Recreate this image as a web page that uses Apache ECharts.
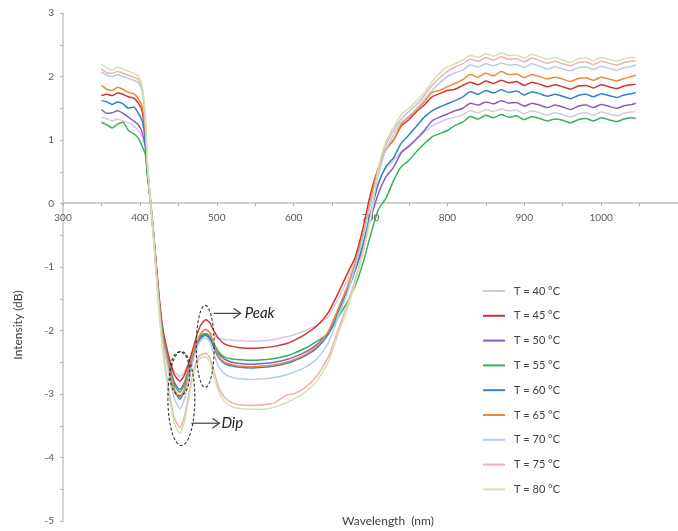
<!DOCTYPE html>
<html>
<head>
<meta charset="utf-8">
<script src="https://cdn.jsdelivr.net/npm/echarts@6/dist/echarts.min.js"></script>
<style>
html,body{margin:0;padding:0;background:#fff;}
#chart{width:678px;height:531px;}
</style>
</head>
<body>
<div id="chart"></div>
<script>
// wavelength samples (nm)
var wavelength = [350,357,364,371,378,385,392,398,
    403,407,410,414,418,422,426,430,
    435,440,445,452,458,464,470,476,481,486,491,496,502,510,
    520,530,545,560,575,590,600,615,630,645,660,
    670,680,690,700,710,720,730,740,750,760,770,780,790,800,810,820,
    830,840,850,860,870,880,890,900,910,920,930,940,950,960,970,980,990,1000,1010,1020,1030,1040,1045];

var seriesNames = ['T = 40 °C','T = 45 °C','T = 50 °C','T = 55 °C','T = 60 °C','T = 65 °C','T = 70 °C','T = 75 °C','T = 80 °C'];

var t40 = [1.36,1.33,1.3,1.33,1.3,1.27,1.22,1.15,
    1.05,0.85,0.43,0.0,-0.5,-1.08,-1.6,-2.02,
    -2.3,-2.5,-2.65,-2.72,-2.65,-2.48,-2.28,-2.12,-2.03,-2.0,-2.03,-2.08,-2.12,-2.14,
    -2.15,-2.16,-2.17,-2.16,-2.14,-2.1,-2.07,-2.0,-1.92,-1.78,-1.45,
    -1.2,-0.9,-0.5,0.02,0.35,0.55,0.68,0.82,0.92,1.02,1.12,1.22,1.28,1.33,1.36,1.4,
    1.46,1.43,1.48,1.45,1.49,1.46,1.47,1.41,1.46,1.43,1.39,1.43,1.4,1.36,1.41,1.43,1.39,1.44,1.41,1.38,1.42,1.44,1.45];
var t45 = [1.7,1.72,1.7,1.74,1.72,1.68,1.66,1.58,
    1.45,1.05,0.5,0.03,-0.48,-1.05,-1.58,-1.98,
    -2.28,-2.52,-2.7,-2.8,-2.7,-2.5,-2.25,-2.0,-1.88,-1.83,-1.88,-2.0,-2.12,-2.21,
    -2.25,-2.27,-2.28,-2.27,-2.25,-2.21,-2.16,-2.06,-1.93,-1.72,-1.36,
    -1.1,-0.85,-0.4,0.15,0.55,0.85,1.0,1.22,1.32,1.45,1.55,1.68,1.73,1.78,1.8,1.86,
    1.91,1.87,1.93,1.89,1.94,1.9,1.92,1.86,1.91,1.88,1.84,1.87,1.84,1.8,1.85,1.86,1.82,1.87,1.84,1.81,1.85,1.87,1.88];
var t50 = [1.48,1.42,1.43,1.46,1.42,1.36,1.3,1.24,
    1.12,0.9,0.45,0.0,-0.52,-1.1,-1.64,-2.05,
    -2.35,-2.62,-2.82,-2.93,-2.82,-2.58,-2.33,-2.15,-2.07,-2.05,-2.1,-2.22,-2.36,-2.45,
    -2.5,-2.52,-2.53,-2.52,-2.5,-2.46,-2.42,-2.34,-2.22,-2.02,-1.62,
    -1.35,-1.05,-0.7,-0.25,0.15,0.42,0.57,0.8,0.9,1.02,1.15,1.3,1.36,1.41,1.46,1.5,
    1.58,1.55,1.6,1.57,1.62,1.58,1.59,1.53,1.58,1.55,1.51,1.55,1.52,1.48,1.53,1.55,1.51,1.56,1.53,1.5,1.54,1.56,1.58];
var t55 = [1.28,1.24,1.19,1.25,1.28,1.15,1.1,1.03,
    0.9,0.78,0.42,0.0,-0.53,-1.12,-1.66,-2.08,
    -2.38,-2.65,-2.86,-2.97,-2.85,-2.6,-2.35,-2.15,-2.07,-2.05,-2.1,-2.2,-2.33,-2.42,
    -2.45,-2.46,-2.47,-2.46,-2.44,-2.4,-2.36,-2.28,-2.17,-2.05,-1.75,
    -1.55,-1.3,-0.95,-0.5,-0.1,0.08,0.36,0.58,0.68,0.82,0.94,1.05,1.1,1.15,1.23,1.28,
    1.37,1.33,1.39,1.35,1.4,1.36,1.38,1.32,1.37,1.34,1.3,1.33,1.31,1.27,1.32,1.34,1.3,1.35,1.32,1.29,1.33,1.35,1.34];
var t60 = [1.62,1.6,1.56,1.6,1.57,1.5,1.52,1.42,
    1.3,1.0,0.48,0.0,-0.52,-1.12,-1.66,-2.1,
    -2.42,-2.72,-2.95,-3.08,-2.95,-2.65,-2.38,-2.18,-2.1,-2.08,-2.13,-2.26,-2.42,-2.52,
    -2.56,-2.58,-2.59,-2.58,-2.56,-2.52,-2.48,-2.4,-2.28,-2.06,-1.65,
    -1.38,-1.05,-0.65,-0.15,0.3,0.58,0.72,0.95,1.08,1.22,1.36,1.46,1.52,1.57,1.62,1.68,
    1.76,1.72,1.78,1.74,1.79,1.75,1.77,1.71,1.76,1.73,1.69,1.72,1.69,1.65,1.7,1.72,1.68,1.73,1.7,1.67,1.71,1.73,1.75];
var t65 = [1.86,1.8,1.78,1.83,1.8,1.75,1.73,1.65,
    1.52,1.15,0.55,0.02,-0.52,-1.12,-1.68,-2.12,
    -2.4,-2.7,-2.93,-3.05,-2.92,-2.62,-2.34,-2.12,-2.02,-1.98,-2.04,-2.2,-2.4,-2.5,
    -2.54,-2.56,-2.57,-2.56,-2.54,-2.5,-2.46,-2.38,-2.25,-2.02,-1.6,
    -1.3,-0.95,-0.5,0.05,0.55,0.85,1.0,1.25,1.36,1.48,1.6,1.75,1.78,1.84,1.89,1.95,
    2.03,1.99,2.05,2.01,2.08,2.03,2.04,1.98,2.03,2.0,1.96,1.99,1.96,1.92,1.97,1.98,1.94,1.99,1.96,1.93,1.97,2.0,2.02];
var t70 = [2.07,2.02,2.0,2.03,2.0,1.97,1.94,1.9,
    1.75,1.3,0.58,0.0,-0.55,-1.18,-1.76,-2.22,
    -2.5,-2.83,-3.08,-3.23,-3.08,-2.75,-2.45,-2.22,-2.14,-2.12,-2.18,-2.36,-2.56,-2.68,
    -2.74,-2.76,-2.77,-2.76,-2.74,-2.7,-2.66,-2.58,-2.45,-2.2,-1.72,
    -1.4,-1.0,-0.55,0.0,0.45,0.85,1.08,1.28,1.38,1.5,1.64,1.78,1.9,2.0,2.06,2.1,
    2.18,2.15,2.2,2.17,2.21,2.18,2.19,2.14,2.2,2.16,2.12,2.15,2.12,2.09,2.14,2.15,2.11,2.16,2.13,2.1,2.14,2.16,2.18];
var t75 = [2.12,2.06,2.05,2.08,2.05,2.02,1.99,1.95,
    1.8,1.35,0.6,0.0,-0.57,-1.22,-1.82,-2.3,
    -2.72,-3.1,-3.38,-3.53,-3.35,-2.98,-2.62,-2.42,-2.37,-2.36,-2.43,-2.62,-2.88,-3.05,
    -3.14,-3.17,-3.18,-3.17,-3.14,-3.02,-3.0,-2.9,-2.72,-2.42,-1.92,
    -1.58,-1.2,-0.75,-0.2,0.5,0.92,1.15,1.33,1.45,1.56,1.7,1.86,1.98,2.08,2.15,2.2,
    2.27,2.24,2.3,2.26,2.31,2.27,2.28,2.23,2.29,2.25,2.21,2.24,2.2,2.17,2.22,2.23,2.19,2.24,2.21,2.18,2.22,2.24,2.25];
var t80 = [2.2,2.13,2.1,2.15,2.12,2.08,2.05,2.0,
    1.85,1.4,0.62,0.0,-0.58,-1.25,-1.85,-2.35,
    -2.8,-3.18,-3.47,-3.62,-3.43,-3.05,-2.68,-2.48,-2.42,-2.42,-2.5,-2.7,-2.95,-3.12,
    -3.2,-3.23,-3.24,-3.24,-3.21,-3.14,-3.08,-2.97,-2.8,-2.5,-1.98,
    -1.65,-1.25,-0.8,-0.25,0.55,0.98,1.2,1.4,1.5,1.62,1.75,1.92,2.05,2.15,2.2,2.26,
    2.33,2.3,2.36,2.32,2.37,2.33,2.34,2.29,2.35,2.31,2.27,2.3,2.26,2.22,2.28,2.29,2.25,2.3,2.27,2.24,2.28,2.3,2.3];

var allValues = [t40,t45,t50,t55,t60,t65,t70,t75,t80];
var colors = ['#d3c9e4','#d0362f','#8c5bc0','#30b35c','#3483c9','#f0883a','#b6cde8','#ebb3b0','#d2e2b4'];

var font = 'Lato, "Liberation Sans", sans-serif';

function pairUp(vals){
    var out = [];
    for(var i = 0 ; i < wavelength.length ; i ++){
        out.push([wavelength[i], vals[i]]);
    }
    return out;
}

function buildSeries(){
    var list = [];
    for(var i = 0 ; i < seriesNames.length ; i ++){
        list.push({
            name: seriesNames[i],
            type: 'line',
            data: pairUp(allValues[i]),
            showSymbol: false,
            symbol: 'none',
            smooth: 0.2,
            lineStyle: {width: 1.5, color: colors[i]},
            itemStyle: {color: colors[i]},
            emphasis: {disabled: true},
            z: 2
        });
    }
    return list;
}

var chart = echarts.init(document.getElementById('chart'));

var option = {
    animation: false,
    textStyle: {fontFamily: font},
    grid: {left: 63, right: -9, top: 13, bottom: 10},
    legend: {
        orient: 'vertical',
        left: 478,
        top: 279,
        itemWidth: 22,
        itemHeight: 2,
        itemGap: 10.8,
        icon: 'rect',
        data: seriesNames,
        textStyle: {fontSize: 11, color: '#404040', lineHeight: 14, padding: [0,0,0,4], fontFamily: font}
    },
    xAxis: {
        type: 'value',
        min: 300,
        max: 1100,
        interval: 100,
        position: 'bottom',
        offset: -318,
        axisLine: {onZero: false, lineStyle: {color: '#c4c4c4', width: 1.5}},
        axisTick: {show: true, inside: false, length: 3, lineStyle: {color: '#b0b0b0'}},
        minorTick: {show: true, splitNumber: 2, length: 3, lineStyle: {color: '#b0b0b0'}},
        axisLabel: {
            color: '#595959', fontSize: 10, margin: 10, fontFamily: font, showMaxLabel: false,
            formatter: function(v){ return String(v); }
        },
        splitLine: {show: false}
    },
    yAxis: {
        type: 'value',
        min: -5,
        max: 3,
        interval: 1,
        axisLine: {show: true, onZero: false, lineStyle: {color: '#c4c4c4', width: 1.5}},
        axisTick: {show: true, length: 3, lineStyle: {color: '#b0b0b0'}},
        minorTick: {show: true, splitNumber: 2, length: 3, lineStyle: {color: '#b0b0b0'}},
        axisLabel: {color: '#595959', fontSize: 10, margin: 9, fontFamily: font},
        splitLine: {show: false}
    },
    series: buildSeries()
};
chart.setOption(option);

// annotations (Peak / Dip) anchored in data space
function ellipsePts(c, rx, ry){
    var pts = [];
    for(var k = 0 ; k <= 60 ; k ++){
        var a = k / 60 * Math.PI * 2;
        pts.push([c[0] + rx * Math.cos(a), c[1] + ry * Math.sin(a)]);
    }
    return pts;
}

function arrow(p, len){
    return [
        {type: 'line', shape: {x1: p[0], y1: p[1], x2: p[0] + len, y2: p[1]}, style: {stroke: '#404040', lineWidth: 1.2}, z: 10},
        {type: 'polyline', shape: {points: [[p[0] + len - 7, p[1] - 5], [p[0] + len, p[1]], [p[0] + len - 7, p[1] + 5]]}, style: {stroke: '#404040', lineWidth: 1.2, fill: null}, z: 10}
    ];
}

function addAnnotations(){
    var peakC = chart.convertToPixel({gridIndex: 0}, [485, -2.25]);
    var dipSmall = chart.convertToPixel({gridIndex: 0}, [452, -2.68]);
    var dipBig = chart.convertToPixel({gridIndex: 0}, [454, -3.07]);
    var peakArrow = chart.convertToPixel({gridIndex: 0}, [496, -1.73]);
    var dipArrow = chart.convertToPixel({gridIndex: 0}, [467, -3.46]);
    var dash = {stroke: '#333', lineWidth: 1.1, lineDash: [3, 2], fill: null};
    var els = [
        {type: 'polyline', shape: {points: ellipsePts(peakC, 9, 41)}, style: dash, z: 10},
        {type: 'polyline', shape: {points: ellipsePts(dipSmall, 10, 22)}, style: dash, z: 10},
        {type: 'polyline', shape: {points: ellipsePts(dipBig, 13.5, 47)}, style: dash, z: 10}
    ];
    els = els.concat(arrow(peakArrow, 27), arrow(dipArrow, 28));
    els.push({type: 'text', x: peakArrow[0] + 31, y: peakArrow[1], style: {text: 'Peak', fill: '#222', font: 'italic 15px ' + font, textVerticalAlign: 'middle'}, z: 10});
    els.push({type: 'text', x: dipArrow[0] + 30, y: dipArrow[1], style: {text: 'Dip', fill: '#222', font: 'italic 15px ' + font, textVerticalAlign: 'middle'}, z: 10});
    els.push({type: 'text', x: 388, y: 521, style: {text: 'Wavelength  (nm)', fill: '#404040', font: '12px ' + font, textAlign: 'center', textVerticalAlign: 'middle'}});
    els.push({type: 'text', x: 18, y: 325, rotation: Math.PI / 2, style: {text: 'Intensity (dB)', fill: '#404040', font: '12px ' + font, textAlign: 'center', textVerticalAlign: 'middle'}});
    chart.setOption({graphic: {elements: els}});
}

addAnnotations();
</script>
</body>
</html>
